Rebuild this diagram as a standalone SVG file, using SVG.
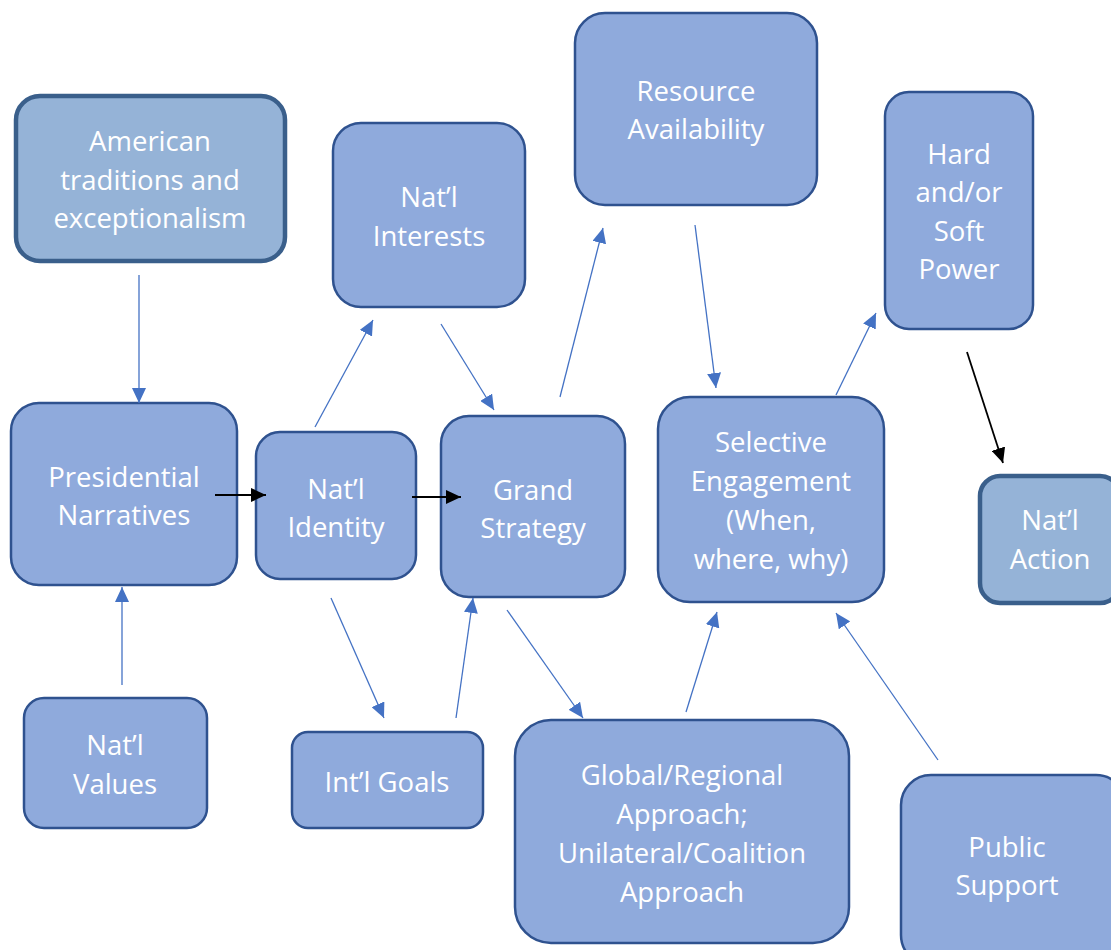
<svg xmlns="http://www.w3.org/2000/svg" width="1111" height="950" viewBox="0 0 1111 950">
<defs>
<style>
.n{fill:#8FAADC;stroke:#2F528F;stroke-width:2.5}
.s{fill:#95B3D7;stroke:#3A5F8B;stroke-width:4.5}
text{font-family:"Open Sans","Liberation Sans",sans-serif;font-size:27.5px;fill:#FFFFFF;text-anchor:middle}
.c{stroke:#4472C4;stroke-width:1.3;fill:none;marker-end:url(#ab)}
.k{stroke:#000000;stroke-width:1.8;fill:none;marker-end:url(#ak)}
</style>
<marker id="ab" markerUnits="userSpaceOnUse" markerWidth="16" markerHeight="14" refX="15" refY="7" orient="auto"><path d="M0,0 L15,7 L0,14 Z" fill="#4472C4"/></marker>
<marker id="ak" markerUnits="userSpaceOnUse" markerWidth="16" markerHeight="14" refX="15" refY="7" orient="auto"><path d="M0,0 L15,7 L0,14 Z" fill="#000000"/></marker>
</defs>
<rect width="1111" height="950" fill="#FFFFFF"/>
<g id="american"><rect class="s" x="16" y="96" width="269" height="165" rx="24"/><text x="150" y="151">American</text><text x="150" y="190">traditions and</text><text x="150" y="228">exceptionalism</text></g>
<g id="interests"><rect class="n" x="333" y="123" width="192" height="184" rx="28"/><text x="429" y="207">Nat’l</text><text x="429" y="246">Interests</text></g>
<g id="resource"><rect class="n" x="575" y="13" width="242" height="192" rx="30"/><text x="696" y="101">Resource</text><text x="696" y="139">Availability</text></g>
<g id="power"><rect class="n" x="885" y="92" width="148" height="237" rx="24"/><text x="959" y="164">Hard</text><text x="959" y="202">and/or</text><text x="959" y="241">Soft</text><text x="959" y="279">Power</text></g>
<g id="presidential"><rect class="n" x="11" y="403" width="226" height="182" rx="28"/><text x="124" y="487">Presidential</text><text x="124" y="525">Narratives</text></g>
<g id="identity"><rect class="n" x="256" y="432" width="160" height="147" rx="24"/><text x="336" y="499">Nat’l</text><text x="336" y="537">Identity</text></g>
<g id="grand"><rect class="n" x="441" y="416" width="184" height="181" rx="28"/><text x="533" y="500">Grand</text><text x="533" y="538">Strategy</text></g>
<g id="selective"><rect class="n" x="658" y="397" width="226" height="205" rx="32"/><text x="771" y="452">Selective</text><text x="771" y="491">Engagement</text><text x="771" y="530">(When,</text><text x="771" y="569">where, why)</text></g>
<g id="action"><rect class="s" x="980" y="476" width="140" height="127" rx="20"/><text x="1050" y="530">Nat’l</text><text x="1050" y="569">Action</text></g>
<g id="values"><rect class="n" x="24" y="698" width="183" height="130" rx="20"/><text x="115" y="755">Nat’l</text><text x="115" y="794">Values</text></g>
<g id="goals"><rect class="n" x="292" y="732" width="191" height="96" rx="16"/><text x="387" y="792">Int’l Goals</text></g>
<g id="global"><rect class="n" x="515" y="720" width="334" height="223" rx="36"/><text x="682" y="785">Global/Regional</text><text x="682" y="824">Approach;</text><text x="682" y="863">Unilateral/Coalition</text><text x="682" y="902">Approach</text></g>
<g id="public"><rect class="n" x="901" y="775" width="225" height="190" rx="30"/><text x="1007" y="857">Public</text><text x="1007" y="895">Support</text></g>
<g id="connectors">
<line class="c" x1="139" y1="275" x2="139" y2="403"/>
<line class="c" x1="122" y1="685" x2="122" y2="587"/>
<line class="c" x1="315" y1="427" x2="373" y2="320"/>
<line class="c" x1="441" y1="324" x2="494" y2="410"/>
<line class="c" x1="560" y1="397" x2="603" y2="228"/>
<line class="c" x1="695" y1="225" x2="716" y2="388"/>
<line class="c" x1="836" y1="395" x2="876" y2="313"/>
<line class="c" x1="331" y1="598" x2="384" y2="718"/>
<line class="c" x1="456" y1="718" x2="473" y2="598"/>
<line class="c" x1="507" y1="610" x2="583" y2="718"/>
<line class="c" x1="686" y1="712" x2="717" y2="612"/>
<line class="c" x1="938" y1="760" x2="836" y2="613"/>
<line class="k" x1="215" y1="495" x2="266" y2="495"/>
<line class="k" x1="412" y1="497" x2="461" y2="497"/>
<line class="k" x1="967" y1="352" x2="1003" y2="463"/>
</g>
</svg>
